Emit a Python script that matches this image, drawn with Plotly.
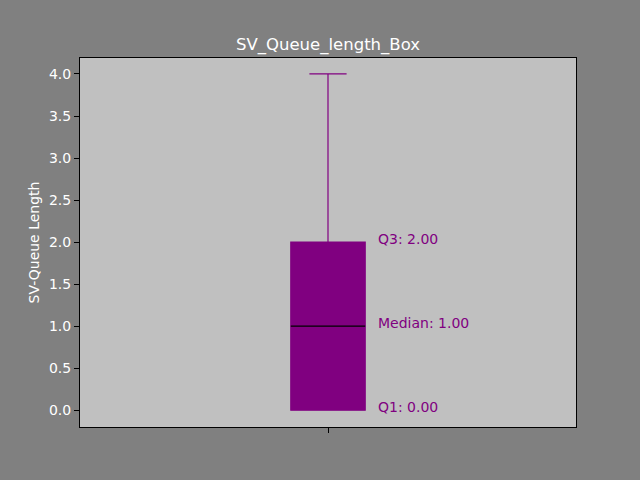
import plotly.graph_objects as go

# box statistics
positions = [1]
q1 = [0.0]
median = [1.0]
q3 = [2.0]
lower = [0.0]
upper = [4.0]
title = "SV_Queue_length_Box"
ylabel = "SV-Queue Length"
yticks = [0.0, 0.5, 1.0, 1.5, 2.0, 2.5, 3.0, 3.5, 4.0]

purple = "#800080"
box_w = 0.15

fig = go.Figure()

fig.add_trace(go.Box(
    x=positions, q1=q1, median=median, q3=q3,
    lowerfence=lower, upperfence=upper,
    width=box_w, whiskerwidth=0.5,
    fillcolor=purple, line=dict(color=purple, width=1.2),
    boxpoints=False, hoverinfo="skip", showlegend=False,
))

# black median line on top of the box
for p, m in zip(positions, median):
    fig.add_trace(go.Scatter(
        x=[p - box_w / 2, p + box_w / 2], y=[m, m], mode="lines",
        line=dict(color="black", width=1.2), showlegend=False, hoverinfo="skip",
    ))

# labels next to the box
for p, a, b, c in zip(positions, q1, median, q3):
    for val, name in [(c, "Q3"), (b, "Median"), (a, "Q1")]:
        fig.add_annotation(
            x=p + 0.096, y=val, text=f"{name}: {val:.2f}", showarrow=False,
            xanchor="left", yanchor="middle", yshift=3,
            font=dict(color=purple, size=14, family="DejaVu Sans"),
        )

fig.update_layout(
    width=640, height=480,
    paper_bgcolor="#808080", plot_bgcolor="#C0C0C0",
    margin=dict(l=80, r=64, t=58, b=53),
    font=dict(family="DejaVu Sans", size=14, color="white"),
    title=dict(text=title, x=328 / 640, xanchor="center", y=1 - 44 / 480, yanchor="middle",
               font=dict(size=16.5, color="white")),
)
fig.update_xaxes(
    range=[0.5, 1.5], tickvals=positions, ticktext=[""], ticks="outside",
    ticklen=5, tickcolor="black", showgrid=False, zeroline=False,
    showline=True, linecolor="black", mirror=True, linewidth=1,
)
fig.update_yaxes(
    range=[-0.2, 4.19], tickvals=yticks, ticktext=[f"{v:.1f}" for v in yticks],
    ticks="outside", ticklen=5, tickcolor="black", showgrid=False, zeroline=False,
    showline=True, linecolor="black", mirror=True, linewidth=1,
    title=dict(text=ylabel, font=dict(size=14, color="white"), standoff=6),
)

fig.write_html("out.html", config={"displayModeBar": False},
               post_script="document.body.style.margin='0';document.body.style.background='#808080';")
